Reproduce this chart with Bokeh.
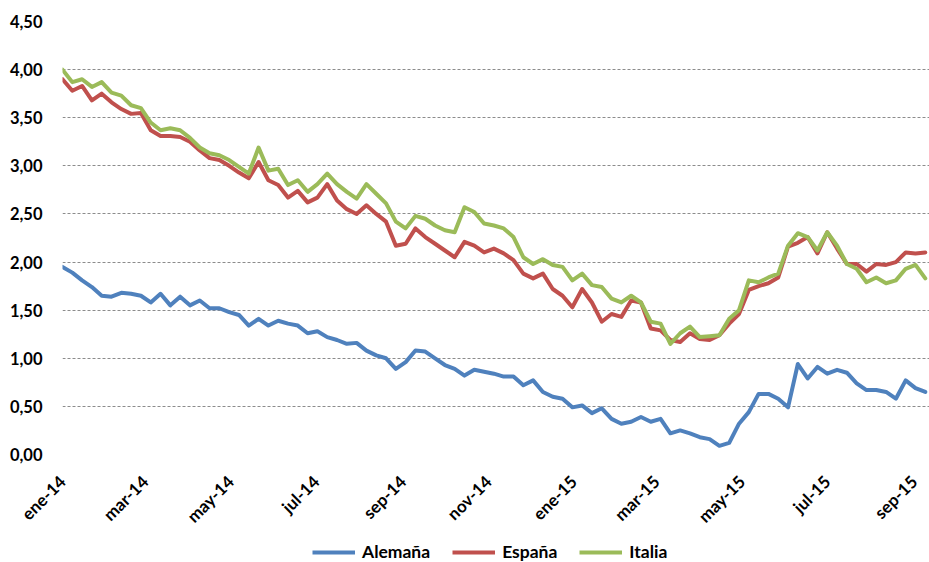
import math
import pandas as pd
from bokeh.plotting import figure
from bokeh.layouts import column
from bokeh.models import (ColumnDataSource, FixedTicker, CustomJSTickFormatter,
                          Legend, LegendItem, Range1d)
from bokeh.embed import file_html
from bokeh.resources import INLINE

# ---- data (weekly readings, % yield) ----
fechas = pd.date_range("2014-01-01", periods=89, freq="7D")

alemania = [1.95, 1.89, 1.81, 1.74, 1.65, 1.64, 1.68, 1.67, 1.65, 1.58,
            1.67, 1.55, 1.64, 1.55, 1.60, 1.52, 1.52, 1.48, 1.45, 1.34,
            1.41, 1.34, 1.39, 1.36, 1.34, 1.26, 1.28, 1.22, 1.19, 1.15,
            1.16, 1.08, 1.03, 1.00, 0.89, 0.96, 1.08, 1.07, 1.00, 0.93,
            0.89, 0.82, 0.88, 0.86, 0.84, 0.81, 0.81, 0.72, 0.77, 0.65,
            0.60, 0.58, 0.49, 0.51, 0.43, 0.48, 0.37, 0.32, 0.34, 0.39,
            0.34, 0.37, 0.22, 0.25, 0.22, 0.18, 0.16, 0.09, 0.12, 0.32,
            0.44, 0.63, 0.63, 0.58, 0.49, 0.94, 0.79, 0.91, 0.84, 0.88,
            0.85, 0.74, 0.67, 0.67, 0.65, 0.58, 0.77, 0.69, 0.65]

espana = [3.90, 3.78, 3.83, 3.68, 3.75, 3.66, 3.59, 3.54, 3.55, 3.37,
          3.31, 3.31, 3.30, 3.25, 3.16, 3.08, 3.06, 3.00, 2.93, 2.87,
          3.04, 2.85, 2.80, 2.67, 2.74, 2.62, 2.67, 2.81, 2.64, 2.55,
          2.50, 2.59, 2.50, 2.42, 2.17, 2.19, 2.35, 2.26, 2.19, 2.12,
          2.05, 2.21, 2.17, 2.10, 2.14, 2.09, 2.02, 1.88, 1.83, 1.88,
          1.72, 1.65, 1.53, 1.72, 1.58, 1.38, 1.46, 1.43, 1.60, 1.58,
          1.31, 1.29, 1.19, 1.17, 1.26, 1.20, 1.19, 1.24, 1.36, 1.46,
          1.71, 1.75, 1.78, 1.84, 2.16, 2.20, 2.26, 2.09, 2.31, 2.14,
          1.98, 1.98, 1.90, 1.98, 1.97, 2.00, 2.10, 2.09, 2.10]

italia = [4.00, 3.87, 3.90, 3.82, 3.87, 3.76, 3.73, 3.63, 3.60, 3.45,
          3.37, 3.39, 3.37, 3.29, 3.19, 3.13, 3.11, 3.06, 2.99, 2.92,
          3.19, 2.95, 2.97, 2.80, 2.85, 2.73, 2.81, 2.92, 2.81, 2.73,
          2.66, 2.81, 2.71, 2.61, 2.42, 2.35, 2.48, 2.45, 2.38, 2.33,
          2.31, 2.57, 2.52, 2.40, 2.38, 2.35, 2.26, 2.05, 1.98, 2.03,
          1.97, 1.95, 1.81, 1.88, 1.76, 1.74, 1.62, 1.58, 1.65, 1.58,
          1.38, 1.36, 1.15, 1.26, 1.33, 1.22, 1.23, 1.24, 1.41, 1.50,
          1.81, 1.79, 1.84, 1.88, 2.17, 2.30, 2.26, 2.12, 2.31, 2.17,
          1.98, 1.93, 1.79, 1.84, 1.78, 1.81, 1.93, 1.97, 1.83]

series_names = ["Alemaña", "España", "Italia"]
series_colors = ["#4F81BD", "#C0504D", "#9BBB59"]

tick_dates = ["2014-01-01", "2014-03-01", "2014-05-01", "2014-07-01",
              "2014-09-01", "2014-11-01", "2015-01-01", "2015-03-01",
              "2015-05-01", "2015-07-01", "2015-09-01"]
tick_labels = ["ene-14", "mar-14", "may-14", "jul-14", "sep-14", "nov-14",
               "ene-15", "mar-15", "may-15", "jul-15", "sep-15"]
y_ticks = [0, 0.5, 1.0, 1.5, 2.0, 2.5, 3.0, 3.5, 4.0, 4.5]

FONT = "Lato"

src = ColumnDataSource(dict(x=fechas, a=alemania, e=espana, i=italia))

p = figure(width=929, height=538, output_backend="svg", toolbar_location=None,
           x_axis_type="datetime",
           x_range=Range1d(pd.Timestamp("2014-01-01"), pd.Timestamp("2015-09-12")),
           y_range=Range1d(0, 4.5),
           min_border_left=62, min_border_right=0, min_border_top=21,
           min_border_bottom=84)
p.outline_line_color = None
p.background_fill_color = "white"

for col, color in zip(["a", "e", "i"], series_colors):
    p.line("x", col, source=src, line_color=color, line_width=4,
           line_join="round", line_cap="round")

# axes
tick_ms = [pd.Timestamp(d).value / 1e6 for d in tick_dates]
p.xaxis.ticker = FixedTicker(ticks=tick_ms)
p.xaxis.formatter = CustomJSTickFormatter(args=dict(tvals=tick_ms, tlabels=tick_labels), code="""
    let best = 0, bd = Infinity;
    for (let k = 0; k < tvals.length; k++) {
        const d = Math.abs(tvals[k] - tick);
        if (d < bd) { bd = d; best = k; }
    }
    return tlabels[best];
""")
p.xaxis.major_label_orientation = math.pi / 4
p.xaxis.axis_line_color = None
p.xaxis.major_tick_line_color = None
p.xaxis.minor_tick_line_color = None
p.xaxis.major_label_text_font = FONT
p.xaxis.major_label_text_font_style = "bold"
p.xaxis.major_label_text_font_size = "17px"
p.xaxis.major_label_text_color = "black"
p.xaxis.major_label_standoff = 18

p.yaxis.ticker = FixedTicker(ticks=y_ticks)
p.yaxis.formatter = CustomJSTickFormatter(code="return tick.toFixed(2).replace('.', ',');")
p.yaxis.axis_line_color = None
p.yaxis.major_tick_line_color = None
p.yaxis.minor_tick_line_color = None
p.yaxis.major_label_text_font = FONT
p.yaxis.major_label_text_font_style = "bold"
p.yaxis.major_label_text_font_size = "16.5px"
p.yaxis.major_label_text_color = "black"
p.yaxis.major_label_standoff = 14

p.xgrid.visible = False
p.ygrid.ticker = FixedTicker(ticks=y_ticks)
p.ygrid.grid_line_color = "#8C8C8C"
p.ygrid.grid_line_dash = "3 2"
p.ygrid.grid_line_width = 1

# ---- legend strip below the chart ----
# key renderers reuse the same series; the strip's ranges keep them out of view
lg = figure(width=929, height=24, output_backend="svg", toolbar_location=None,
            x_range=Range1d(0, 1), y_range=Range1d(0, 1),
            x_axis_location=None, y_axis_location=None,
            min_border=0, outline_line_color=None)
lg.grid.visible = False
keys = [lg.line("x", col, source=src, line_color=c, line_width=4)
        for col, c in zip(["a", "e", "i"], series_colors)]
legend = Legend(items=[LegendItem(label=n, renderers=[r]) for n, r in zip(series_names, keys)],
                orientation="horizontal", location=(250, 0),
                label_text_font=FONT, label_text_font_style="bold",
                label_text_font_size="17.5px", label_text_color="black",
                glyph_width=43, glyph_height=16, label_height=16,
                label_standoff=7, spacing=22,
                padding=0, margin=0, border_line_color=None,
                background_fill_alpha=0)
lg.add_layout(legend, "center")

layout = column(p, lg, spacing=0)
open("out.html", "w").write(file_html(layout, INLINE))
